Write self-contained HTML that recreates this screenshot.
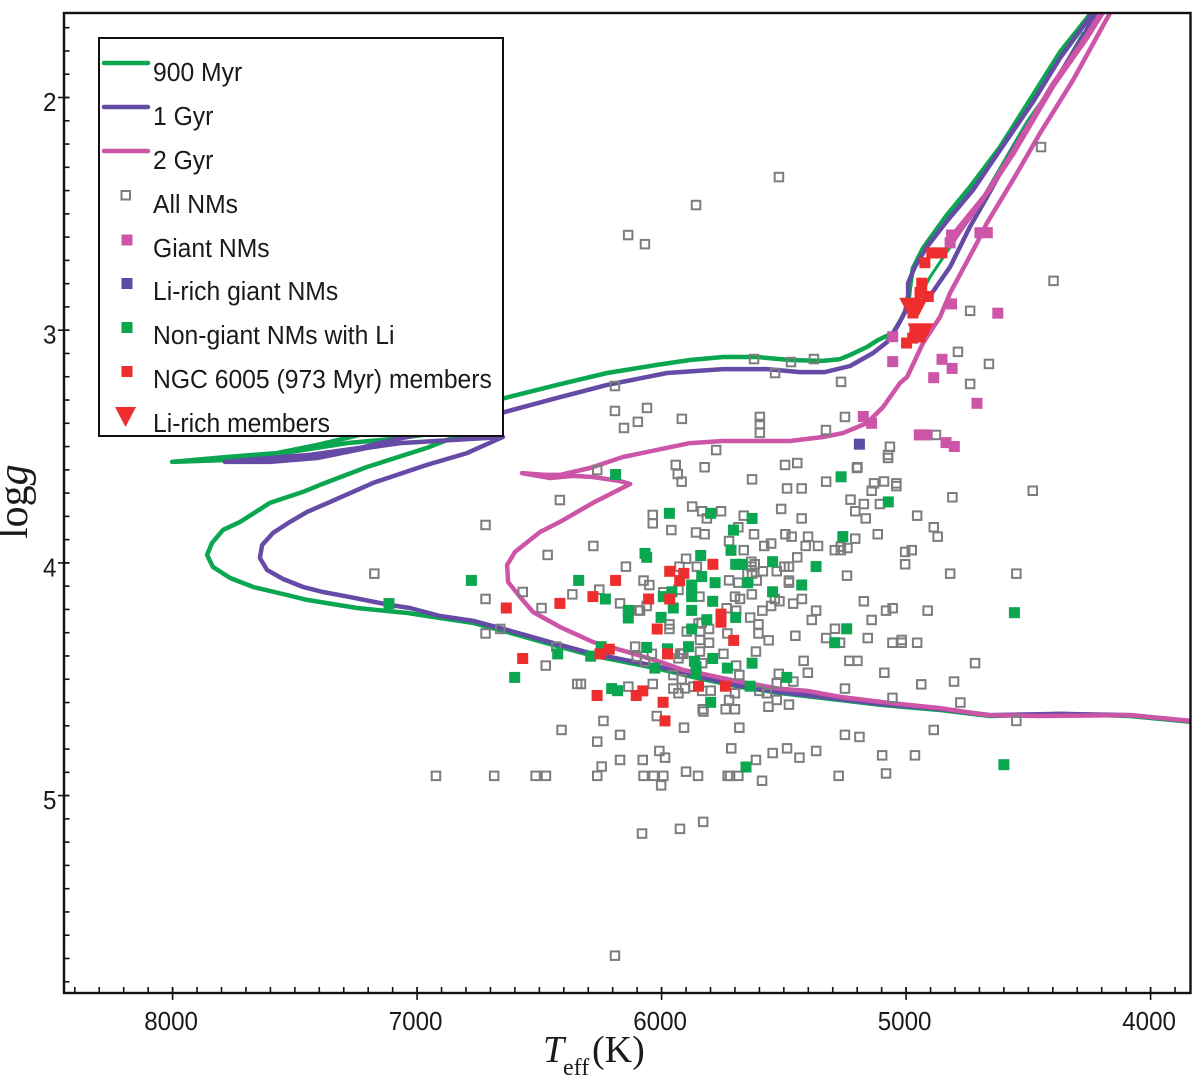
<!DOCTYPE html>
<html lang="en">
<head>
<meta charset="utf-8">
<title>log g vs Teff diagram</title>
<style>
html,body{margin:0;padding:0;background:#fff;width:1200px;height:1079px;overflow:hidden}
svg{display:block}
text{fill:#1a1a1a}
.sans{font-family:"Liberation Sans",sans-serif;font-size:26px}
.serif{font-family:"Liberation Serif",serif}
</style>
</head>
<body>
<svg id="chart" xmlns="http://www.w3.org/2000/svg" width="1200" height="1079" viewBox="0 0 1200 1079">
  <defs><clipPath id="plot-clip"><rect x="64" y="13" width="1126" height="980"/></clipPath></defs>
  <g id="series-lines" clip-path="url(#plot-clip)"></g>
  <g id="markers" clip-path="url(#plot-clip)"></g>
  <rect x="64" y="13" width="1126.5" height="980" fill="none" stroke="#111" stroke-width="2.4"/>
  <g id="axis-ticks"></g>
  <g id="axis-labels"></g>
  <text class="serif" y="1062" font-size="38"><tspan x="543" font-style="italic">T</tspan><tspan x="563" y="1075" font-size="24">eff</tspan><tspan x="592" y="1062">(K)</tspan></text>
  <text class="serif" font-size="42" transform="translate(27,539) rotate(-90)">log<tspan font-style="italic">g</tspan></text>
  <g>
    <rect x="99" y="38" width="404" height="398" fill="#fff" stroke="#111" stroke-width="2"/>
    <line x1="104" x2="148" y1="63" y2="63" stroke="#0aa650" stroke-width="4.5" stroke-linecap="round"/>
    <line x1="104" x2="148" y1="107" y2="107" stroke="#654ba5" stroke-width="4.5" stroke-linecap="round"/>
    <line x1="104" x2="148" y1="151" y2="151" stroke="#cc55a8" stroke-width="4.5" stroke-linecap="round"/>
    <rect x="121.5" y="191" width="8.5" height="8.5" fill="none" stroke="#7d7d7d" stroke-width="2"/>
    <rect x="121.5" y="234.5" width="11" height="11" fill="#cc55a8"/>
    <rect x="121.5" y="278" width="11" height="11" fill="#5d4aa5"/>
    <rect x="121.5" y="322" width="11" height="11" fill="#0aa650"/>
    <rect x="121.5" y="366" width="11" height="11" fill="#ee2e2e"/>
    <polygon points="115,407 136,407 125.5,427" fill="#ee2e2e"/>
    <g transform="translate(153,0) scale(0.95,1)">
      <text class="sans" x="0" y="81">900 Myr</text>
      <text class="sans" x="0" y="125">1 Gyr</text>
      <text class="sans" x="0" y="169">2 Gyr</text>
      <text class="sans" x="0" y="213">All NMs</text>
      <text class="sans" x="0" y="257">Giant NMs</text>
      <text class="sans" x="0" y="300">Li-rich giant NMs</text>
      <text class="sans" x="0" y="344">Non-giant NMs with Li</text>
      <text class="sans" x="0" y="388">NGC 6005 (973 Myr) members</text>
      <text class="sans" x="0" y="432">Li-rich members</text>
    </g>
  </g>
</svg>
<script>
// Axis tick labels
const xTickLabels = [8000, 7000, 6000, 5000, 4000];
const yTickLabels = [2, 3, 4, 5];

// Isochrones: [Teff, logg]
const iso900Main = [[3839,4.683],[4084,4.658],[4370,4.649],[4657,4.658],[4861,4.632],[5107,4.61],[5270,4.589],[5516,4.559],[5679,4.533],[5855,4.494],[6007,4.456],[6293,4.396],[6444,4.353],[6632,4.297],[6771,4.258],[6906,4.237],[7041,4.215],[7082,4.211],[7246,4.194],[7450,4.159],[7532,4.138],[7671,4.103],[7765,4.065],[7835,4.017],[7859,3.966],[7839,3.914],[7794,3.858],[7724,3.824],[7602,3.742],[7467,3.695],[7397,3.665],[7205,3.588],[6960,3.506],[6878,3.472],[6661,3.407],[7099,3.467],[7287,3.485],[7573,3.532],[7778,3.558],[8002,3.566],[7778,3.545],[7573,3.528],[7409,3.493],[7287,3.463],[6988,3.386],[6640,3.291],[6428,3.235],[6223,3.184],[6019,3.149],[5884,3.128],[5749,3.115],[5610,3.115],[5475,3.128],[5340,3.132],[5270,3.124],[5229,3.106],[5160,3.072],[5115,3.042],[5054,3.012],[5017,2.947],[4992,2.892],[4984,2.814],[4972,2.733],[4931,2.647],[4833,2.505],[4739,2.385],[4616,2.213],[4481,1.989],[4370,1.804],[4289,1.697],[4227,1.615]];
const iso900Upper = [[4276,1.723],[4399,1.946],[4506,2.105],[4685,2.428],[4792,2.599],[4902,2.771],[4951,2.87]];
const iso1GyrMain = [[3839,4.679],[4084,4.654],[4370,4.649],[4657,4.654],[4861,4.628],[5107,4.606],[5270,4.585],[5516,4.555],[5679,4.529],[5855,4.486],[6007,4.447],[6293,4.387],[6444,4.344],[6632,4.288],[6771,4.249],[6906,4.228],[7029,4.194],[7111,4.181],[7274,4.147],[7385,4.125],[7467,4.103],[7548,4.069],[7614,4.03],[7643,3.979],[7634,3.923],[7589,3.871],[7520,3.824],[7450,3.781],[7356,3.738],[7246,3.687],[7180,3.656],[6960,3.579],[6796,3.528],[6649,3.459],[7070,3.485],[7205,3.506],[7409,3.549],[7602,3.566],[7786,3.566],[7602,3.549],[7438,3.536],[7234,3.506],[7099,3.472],[6906,3.429],[6640,3.351],[6428,3.291],[6223,3.235],[5978,3.184],[5749,3.167],[5569,3.167],[5434,3.18],[5332,3.18],[5229,3.154],[5135,3.098],[5078,3.051],[5037,2.986],[5004,2.922],[4992,2.849],[4992,2.797],[4964,2.728],[4915,2.642],[4829,2.526],[4726,2.397],[4616,2.226],[4481,2.019],[4370,1.83],[4236,1.637],[4207,1.594]];
const iso1GyrUpper = [[4207,1.6],[4268,1.723],[4399,1.946],[4563,2.226],[4669,2.428],[4739,2.556],[4820,2.728],[4894,2.84],[4951,2.892]];
const iso2GyrMain = [[3839,4.679],[4084,4.654],[4452,4.658],[4669,4.654],[4861,4.624],[5066,4.602],[5270,4.576],[5405,4.55],[5516,4.541],[5679,4.511],[5831,4.477],[5912,4.46],[6007,4.425],[6141,4.382],[6281,4.34],[6416,4.275],[6526,4.211],[6579,4.146],[6628,4.082],[6632,4.009],[6600,3.953],[6497,3.867],[6416,3.824],[6281,3.742],[6129,3.661],[6170,3.648],[6281,3.631],[6362,3.626],[6456,3.635],[6571,3.614],[6477,3.622],[6416,3.622],[6293,3.592],[6158,3.545],[5884,3.485],[5749,3.476],[5475,3.476],[5340,3.459],[5258,3.442],[5160,3.399],[5094,3.33],[5025,3.227],[4996,3.201],[4931,3.055],[4861,2.943],[4820,2.84],[4710,2.625],[4669,2.539],[4563,2.355],[4452,2.153],[4317,1.925],[4166,1.637],[4133,1.594]];
const iso2GyrUpper = [[4182,1.6],[4268,1.744],[4403,1.946],[4567,2.238],[4677,2.419],[4800,2.578],[4820,2.634],[4665,2.406],[4559,2.238],[4395,1.946],[4260,1.744],[4174,1.6]];

// Star samples: [Teff, logg]
const allNMs = [[5942,3.579],[5934,3.618],[5918,3.651],[5824,3.589],[5630,3.641],[5495,3.579],[5445,3.571],[5487,3.68],[5427,3.68],[5327,3.651],[5199,3.589],[5131,3.658],[5090,3.65],[5040,3.658],[5040,3.67],[5141,3.69],[4482,3.69],[4811,3.718],[5227,3.728],[5173,3.747],[5107,3.747],[5208,3.778],[5165,3.809],[4955,3.797],[4887,3.847],[4871,3.887],[5116,3.877],[5208,3.896],[5240,3.936],[5292,3.945],[5267,3.945],[5267,3.93],[5004,3.953],[4977,3.945],[5004,4.006],[5511,3.768],[5427,3.809],[5757,3.778],[5875,3.758],[5834,3.778],[5815,3.809],[5664,3.797],[5686,3.847],[5622,3.877],[5724,3.906],[5664,3.945],[5494,3.877],[5468,3.887],[5401,3.887],[5411,3.927],[5360,3.927],[5552,3.917],[5580,3.927],[5445,3.976],[5633,3.995],[5633,4.016],[5619,4.006],[5586,4.036],[5529,4.036],[5498,4.016],[5479,4.016],[5479,4.076],[5479,4.085],[5242,4.055],[4820,4.046],[4549,4.046],[5649,4.046],[5630,4.046],[5611,4.076],[5686,4.085],[5724,4.075],[5631,4.135],[5679,4.155],[5700,4.145],[5426,4.155],[5537,4.155],[5518,4.165],[5552,4.185],[5462,4.175],[5588,4.205],[5695,4.205],[5734,4.195],[5173,4.165],[5082,4.205],[5055,4.195],[4912,4.205],[5368,4.205],[5386,4.245],[5141,4.245],[5638,4.235],[5604,4.264],[5604,4.303],[5562,4.333],[5453,4.313],[5291,4.283],[5327,4.323],[5270,4.343],[5157,4.323],[5056,4.343],[5018,4.331],[5018,4.343],[4955,4.343],[5614,4.381],[5747,4.391],[5731,4.303],[5806,4.284],[5843,4.331],[5806,4.343],[5843,4.381],[5419,4.421],[5402,4.472],[5232,4.421],[5199,4.421],[5089,4.472],[4718,4.431],[4938,4.522],[4804,4.51],[5250,4.54],[5056,4.58],[4778,4.6],[4549,4.679],[4887,4.718],[5250,4.739],[5191,4.748],[5098,4.827],[4964,4.827],[5082,4.905],[5276,4.915],[5368,4.808],[5487,4.797],[5436,4.837],[5546,4.817],[5715,4.797],[5614,4.847],[5589,4.936],[5686,4.915],[5720,4.915],[5730,4.915],[5851,4.915],[5900,4.897],[5682,4.708],[5908,4.708],[5479,4.609],[5563,4.618],[5529,4.589],[5529,4.517],[5521,4.477],[5461,4.51],[5570,4.56],[5600,4.55],[5700,4.56],[5724,4.589],[5700,4.629],[5738,4.629],[5682,4.482],[5695,4.441],[5799,4.549],[5834,4.55],[5904,4.539],[5931,4.56],[5952,4.54],[5918,4.5],[5952,4.482],[6036,4.52],[5834,4.431],[5911,4.391],[5924,4.391],[5832,4.629],[5829,4.639],[6020,4.658],[6009,4.808],[5986,4.837],[6077,4.847],[6074,4.915],[6033,4.915],[5993,4.915],[6002,4.956],[5968,4.284],[5968,4.264],[6036,3.794],[6036,3.83],[5960,3.859],[5859,3.869],[5824,3.877],[5900,3.982],[5927,4.016],[5856,4.016],[6074,4.076],[6050,4.095],[5931,4.116],[5993,4.126],[5845,4.145],[6061,4.185],[6088,4.205],[5836,4.257],[5897,4.295],[5843,4.295],[6108,4.36],[6102,4.403],[6068,4.424],[6040,4.391],[5849,4.26],[5931,4.41],[5918,4.389],[5870,4.532],[6263,3.601],[6416,3.73],[6720,3.837],[7175,4.046],[6466,3.966],[6279,3.927],[6720,4.155],[6568,4.125],[6491,4.194],[6365,4.135],[6255,4.115],[6170,4.174],[6095,4.204],[6146,4.016],[6660,4.284],[6720,4.303],[6431,4.36],[6474,4.441],[6330,4.52],[6345,4.52],[6136,4.532],[6238,4.679],[6409,4.718],[6170,4.739],[6263,4.768],[6170,4.847],[6245,4.875],[6263,4.915],[6923,4.915],[6685,4.915],[6515,4.915],[6473,4.915],[5520,2.342],[5859,2.462],[6137,2.591],[6068,2.63],[4448,2.213],[4397,2.788],[4738,2.917],[4788,3.093],[4661,3.145],[4738,3.231],[5622,3.124],[5471,3.137],[5377,3.124],[5536,3.184],[5266,3.222],[6191,3.24],[6191,3.347],[6060,3.334],[6154,3.42],[6097,3.394],[5917,3.381],[5598,3.373],[5598,3.403],[5598,3.441],[5328,3.429],[5250,3.373],[4878,3.45],[5066,3.501],[5074,3.549],[5074,3.536],[5201,3.592],[5777,3.515],[6191,5.688],[6080,5.163],[5925,5.143],[5830,5.113]];
const giantNMs = [[4814,2.591],[4820,2.625],[4698,2.581],[4668,2.581],[4814,2.887],[4625,2.927],[5055,3.028],[5055,3.135],[4853,3.125],[4812,3.164],[4887,3.204],[4710,3.314],[5175,3.371],[5141,3.4],[4946,3.45],[4916,3.45],[4837,3.483],[4803,3.5]];
const liRichGiantNMs = [[5191,3.49]];
const nonGiantLi = [[5266,3.63],[5073,3.738],[5968,3.787],[5799,3.787],[5630,3.809],[5706,3.859],[5716,3.946],[5259,3.887],[5546,3.995],[5368,4.016],[5840,3.968],[5697,4.006],[5672,4.006],[5836,4.059],[5781,4.085],[5648,4.085],[5427,4.095],[5546,4.124],[5877,4.095],[5877,4.124],[5877,4.145],[5791,4.165],[5952,4.194],[5877,4.204],[6002,4.234],[5815,4.244],[5697,4.234],[5243,4.283],[5292,4.343],[5877,4.284],[5890,4.36],[6061,4.363],[5976,4.369],[5791,4.411],[5866,4.423],[5859,4.446],[5859,4.474],[5731,4.452],[5630,4.431],[6028,4.452],[5488,4.492],[5638,4.53],[5799,4.599],[5655,4.877],[4557,4.214],[4600,4.867],[5993,4.145],[5958,4.124],[6068,3.959],[6061,3.976],[6188,3.62],[6778,4.075],[6339,4.075],[6230,4.155],[6136,4.204],[6136,4.237],[7115,4.175],[6425,4.391],[6290,4.401],[6247,4.36],[6601,4.492],[6204,4.54],[6180,4.549]];
const ngcMembers = [[5967,4.036],[5909,4.045],[5926,4.076],[5790,4.006],[6053,4.155],[5967,4.155],[5757,4.22],[5757,4.255],[6018,4.284],[5705,4.333],[5976,4.391],[5849,4.53],[5739,4.53],[6077,4.55],[5994,4.599],[5986,4.679],[6188,4.075],[6281,4.145],[6416,4.174],[6635,4.194],[6568,4.411],[6252,4.391],[6214,4.371],[6264,4.57],[6104,4.57],[4895,2.668],[4854,2.668],[4875,2.668],[4923,2.71],[4936,2.798],[4943,2.838],[4909,2.855],[4936,2.84],[4964,3],[4930,2.995],[4943,3.029],[4998,3.055],[4973,3.034],[4972,2.926]];
const liRichMembers = [[4985,2.895],[4972,2.9],[4955,2.9],[4951,3.005],[4931,3.005]];

const SVG_NS = 'http://www.w3.org/2000/svg';
const xScale = function (teff) { return 172.6 + (8000 - teff) * 0.2445; };
const yScale = function (logg) { return 97.5 + (logg - 2) * 232.7; };

function svgEl(tag, parent) {
  const el = document.createElementNS(SVG_NS, tag);
  parent.appendChild(el);
  return el;
}

function drawLine(points, color, width, name, parent) {
  const el = svgEl('polyline', parent);
  
  
  el.setAttribute('points', points.map(function (p) { return xScale(p[0]).toFixed(1) + ',' + yScale(p[1]).toFixed(1); }).join(' '));
  el.setAttribute('fill', 'none');
  el.setAttribute('stroke', color);
  el.setAttribute('stroke-width', width);
  el.setAttribute('stroke-linejoin', 'round');
  el.setAttribute('stroke-linecap', 'round');
}

function drawSquares(points, size, fill, stroke, name, parent) {
  points.forEach(function (p) {
    const el = svgEl('rect', parent);
    
    
    el.setAttribute('x', (xScale(p[0]) - size / 2).toFixed(1));
    el.setAttribute('y', (yScale(p[1]) - size / 2).toFixed(1));
    el.setAttribute('width', size);
    el.setAttribute('height', size);
    el.setAttribute('fill', fill);
    if (stroke) {
      el.setAttribute('stroke', stroke);
      el.setAttribute('stroke-width', '2');
    }
  });
}

const lineGroup = document.getElementById('series-lines');
drawLine(iso900Main, '#0aa650', 4.5, 'isochrone-900-myr', lineGroup);
drawLine(iso900Upper, '#0aa650', 3, 'isochrone-900-myr-upper', lineGroup);
drawLine(iso1GyrMain, '#654ba5', 4.5, 'isochrone-1-gyr', lineGroup);
drawLine(iso1GyrUpper, '#654ba5', 4.5, 'isochrone-1-gyr-upper', lineGroup);
drawLine(iso2GyrMain, '#cc55a8', 4.5, 'isochrone-2-gyr', lineGroup);
drawLine(iso2GyrUpper, '#cc55a8', 4.5, 'isochrone-2-gyr-upper', lineGroup);

const markerGroup = document.getElementById('markers');
drawSquares(allNMs, 8.5, 'none', '#7d7d7d', 'all-nm-point', markerGroup);
drawSquares(giantNMs, 11, '#cc55a8', null, 'giant-nm-point', markerGroup);
drawSquares(liRichGiantNMs, 11, '#5d4aa5', null, 'li-rich-giant-point', markerGroup);
drawSquares(nonGiantLi, 11, '#0aa650', null, 'non-giant-li-point', markerGroup);
drawSquares(ngcMembers, 11, '#ee2e2e', null, 'ngc-6005-member-point', markerGroup);
liRichMembers.forEach(function (p) {
  const el = svgEl('polygon', markerGroup);
  
  
  const cx = xScale(p[0]);
  const cy = yScale(p[1]);
  el.setAttribute('points', (cx - 10.5) + ',' + (cy - 8) + ' ' + (cx + 10.5) + ',' + (cy - 8) + ' ' + cx + ',' + (cy + 12));
  el.setAttribute('fill', '#ee2e2e');
});

const tickGroup = document.getElementById('axis-ticks');
const labelGroup = document.getElementById('axis-labels');

function drawTick(x1, y1, x2, y2, name) {
  const el = svgEl('line', tickGroup);
  
  
  el.setAttribute('x1', x1);
  el.setAttribute('y1', y1);
  el.setAttribute('x2', x2);
  el.setAttribute('y2', y2);
  el.setAttribute('stroke', '#111');
  el.setAttribute('stroke-width', '1.6');
}

// Minor ticks every 100 K and every 0.1 dex
for (let t = 3900; t <= 8400; t += 100) {
  drawTick(xScale(t), 993, xScale(t), 987, 'x-minor-tick');
}
for (let i = 17; i <= 58; i += 1) {
  drawTick(64, yScale(i / 10), 69.5, yScale(i / 10), 'y-minor-tick');
}

xTickLabels.forEach(function (value) {
  const px = xScale(value);
  drawTick(px, 987, px, 1000, 'x-major-tick');
  const el = svgEl('text', labelGroup);
  
  
  el.setAttribute('class', 'sans');
  el.setAttribute('text-anchor', 'middle');
  el.setAttribute('transform', 'translate(' + (px - 1.5) + ',1030) scale(0.93,1)');
  el.textContent = value;
});

yTickLabels.forEach(function (value) {
  const py = yScale(value);
  drawTick(58, py, 69.5, py, 'y-major-tick');
  const el = svgEl('text', labelGroup);
  
  
  el.setAttribute('class', 'sans');
  el.setAttribute('transform', 'translate(43,' + (py + 13.5) + ') scale(0.93,1)');
  el.textContent = value;
});
</script>
</body>
</html>
